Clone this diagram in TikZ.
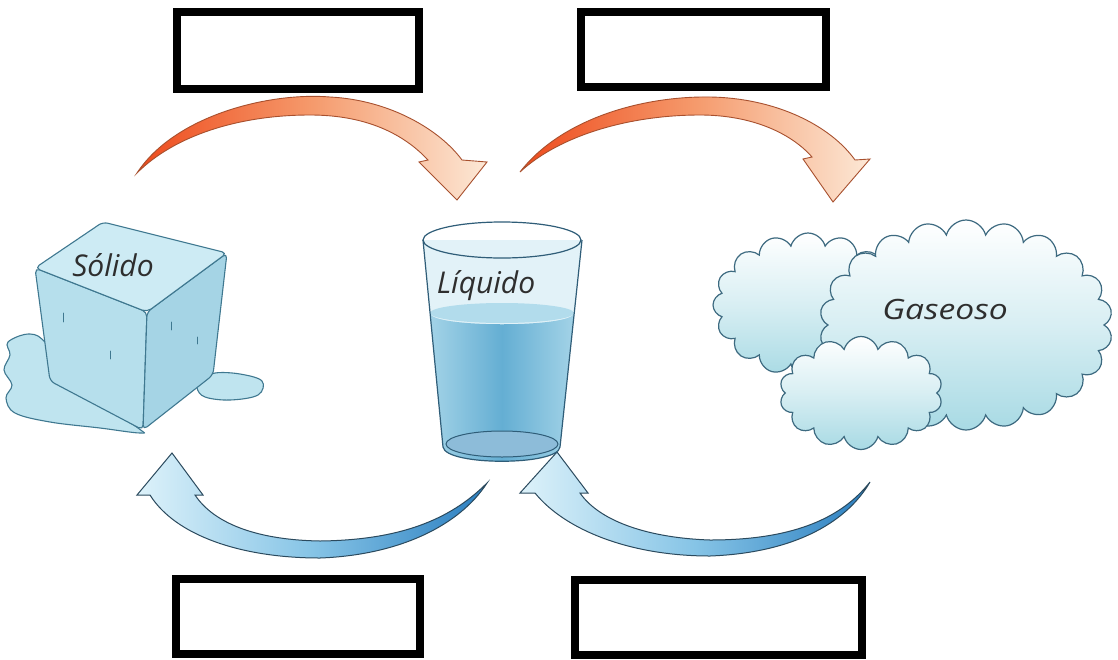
\documentclass[tikz,border=0pt]{standalone}
\usepackage{fontspec}
\setsansfont{Open Sans}
\usetikzlibrary{shapes.symbols}
\definecolor{redA}{HTML}{EE4A1C}
\definecolor{redB}{HTML}{F59A6C}
\definecolor{redC}{HTML}{FCE8D6}
\definecolor{redline}{HTML}{A8502E}
\definecolor{bluA}{HTML}{DDF2FA}
\definecolor{bluB}{HTML}{86C4E6}
\definecolor{bluC}{HTML}{2A7EC0}
\definecolor{bluline}{HTML}{2B4A5E}
\definecolor{iceline}{HTML}{3F7890}
\definecolor{iceTop}{HTML}{CDEBF4}
\definecolor{iceLeft}{HTML}{B6DFEC}
\definecolor{iceRight}{HTML}{A5D4E5}
\definecolor{puddle}{HTML}{BFE4EF}
\definecolor{glassline}{HTML}{2F5D78}
\definecolor{glasspale}{HTML}{E2F2F8}
\definecolor{waterA}{HTML}{A3D3E7}
\definecolor{waterB}{HTML}{64AED3}
\definecolor{watertop}{HTML}{B2DCEC}
\definecolor{basecol}{HTML}{5C9FC8}
\definecolor{cloudline}{HTML}{3D6A80}
\definecolor{cloudaqua}{HTML}{A8DAE4}
\definecolor{textgray}{HTML}{2E2E2E}
\begin{document}
\begin{tikzpicture}[x=1pt,y=-1pt,
  blankbox/.style={draw=black, line width=8pt, fill=white, inner sep=0pt},
  redarrow/.style={draw=redline, line width=0.9pt, left color=redA, right color=redC, middle color=redB},
  bluearrow/.style={draw=bluline, line width=1pt, left color=bluA, right color=bluC, middle color=bluB},
  icefacet/.style={draw=iceline, line width=1.1pt, line join=round},
  puff/.style={cloud, cloud ignores aspect, draw=cloudline, line width=1.2pt,
     top color=white, bottom color=cloudaqua, middle color=white!55!cloudaqua, inner sep=0pt},
  statetext/.style={font=\sffamily\itshape\fontsize{30}{36}\selectfont, text=textgray, inner sep=0pt},
  dropline/.style={draw=iceline, line width=0.9pt, line cap=round}
]
\useasboundingbox (0,0) rectangle (1118,659);
\fill[white] (0,0) rectangle (1118,659);

% ---------- empty boxes ----------
\node[blankbox, minimum width=242pt, minimum height=77pt] (boxTL) at (298,50.5) {};
\node[blankbox, minimum width=245pt, minimum height=75pt] (boxTR) at (703.5,49.5) {};
\node[blankbox, minimum width=244pt, minimum height=75pt] (boxBL) at (298,616.5) {};
\node[blankbox, minimum width=287pt, minimum height=75pt] (boxBR) at (718.5,617.5) {};

% ---------- red arrows (top) ----------
\draw[redarrow] (137,173) .. controls (175,115) and (270,92) .. (330,97)
   .. controls (390,100) and (440,130) .. (462,160) -- (487,162) -- (457,200) -- (419,162) -- (428,160)
   .. controls (400,130) and (360,115) .. (310,115)
   .. controls (240,115) and (175,135) .. cycle;
\draw[redarrow] (520,172) .. controls (560,120) and (640,96) .. (710,97)
   .. controls (775,98) and (830,125) .. (855,160) -- (870,159) -- (833,202) -- (803,159) -- (812,157)
   .. controls (790,132) and (750,115) .. (700,115)
   .. controls (630,115) and (560,135) .. cycle;

% ---------- blue arrows (bottom) ----------
\draw[bluearrow] (172,453) -- (203,495) -- (195,495)
   .. controls (215,525) and (260,540) .. (320,541)
   .. controls (400,540) and (450,520) .. (487,483)
   .. controls (460,525) and (400,555) .. (320,558)
   .. controls (240,558) and (175,535) .. (150,495) -- (137,495) -- cycle;
\draw[bluearrow] (557,452) -- (588,493) -- (580,493)
   .. controls (600,522) and (650,538) .. (710,540)
   .. controls (790,540) and (840,520) .. (870,482)
   .. controls (845,525) and (790,553) .. (710,556)
   .. controls (630,556) and (565,530) .. (535,493) -- (520,493) -- cycle;

% ---------- ice cube ----------
\draw[icefacet, fill=puddle] plot[smooth cycle, tension=0.6] coordinates
  {(8,342) (30,334) (48,345) (90,395) (138,428) (140,433) (100,428) (50,422) (15,413) (6,398) (12,385) (4,370) (10,355)};
\draw[icefacet, fill=puddle] plot[smooth cycle, tension=0.6] coordinates
  {(200,380) (215,373) (240,374) (262,381) (258,395) (230,400) (205,397) (197,388)};
\coordinate (cA) at (35,268);
\coordinate (cB) at (103,222);
\coordinate (cC) at (227,253);
\coordinate (cD) at (147,312);
\coordinate (cE) at (50,381);
\coordinate (cF) at (143,430);
\coordinate (cG) at (213,375);
\draw[icefacet, fill=iceLeft, rounded corners=5pt] (cA) -- (cD) -- (cF) -- (cE) -- cycle;
\draw[icefacet, fill=iceRight, rounded corners=5pt] (cD) -- (cC) -- (cG) -- (cF) -- cycle;
\draw[icefacet, fill=iceTop, rounded corners=5pt] (cA) -- (cB) -- (cC) -- (cD) -- cycle;
\draw[dropline] (63,313) -- (63,322);
\draw[dropline] (110,351) -- (110,359);
\draw[dropline] (171,322) -- (171,330);
\draw[dropline] (197,337) -- (197,344);
\node[statetext] (solid) at (113,265) {Sólido};

% ---------- glass ----------
\fill[glasspale] (423,240) -- (443,447) .. controls (446,466) and (558,466) .. (560,447) -- (582,240) -- cycle;
\shade[left color=waterA, right color=waterA, middle color=waterB]
   (430,313) -- (443,447) .. controls (446,466) and (558,466) .. (560,447) -- (574,313)
   .. controls (574,328) and (430,328) .. cycle;
\fill[watertop] (502,313) ellipse [x radius=72, y radius=10];
\draw[glassline, line width=1pt, fill=basecol!70] (502,444) ellipse [x radius=56, y radius=13];
\draw[glassline, line width=1.2pt] (423,240) -- (443,447) .. controls (446,466) and (558,466) .. (560,447) -- (582,240);
\draw[glassline, line width=1.2pt] (502,240) ellipse [x radius=79, y radius=18];
\node[statetext] (liquid) at (486,286) {Líquido};

% ---------- clouds ----------
\node[puff, cloud puffs=16, minimum width=190pt, minimum height=144pt] (cloudL) at (808,305) {};
\node[puff, cloud puffs=22, minimum width=293pt, minimum height=210pt] (cloudR) at (966,325) {};
\node[puff, cloud puffs=14, minimum width=163pt, minimum height=113pt] (cloudF) at (861,393) {};
\node[statetext, font=\sffamily\itshape\fontsize{28}{34}\selectfont] (gas) at (945,309) {\scalebox{1.2}[1]{Gaseoso}};
\end{tikzpicture}
\end{document}
